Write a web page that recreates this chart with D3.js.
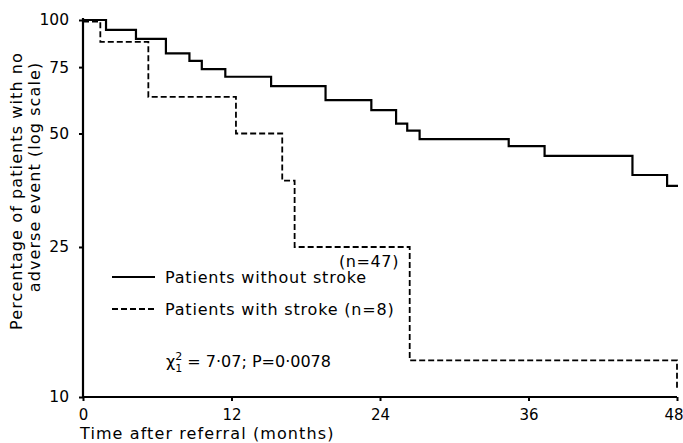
<!DOCTYPE html>
<html><head><meta charset="utf-8">
<script src="https://cdn.jsdelivr.net/npm/d3@7"></script>
<style>
html,body{margin:0;padding:0;background:#fff;}
svg text{font-family:"DejaVu Sans",sans-serif;fill:#000;}
</style></head>
<body><svg id="c" width="683" height="443"></svg>
<script>
// Data (months, % with no adverse event)
const noStrokeTimes  = [0, 1.86, 4.28, 6.7, 8.6, 9.6, 11.5, 15.2, 19.6, 23.3, 25.3, 26.2, 27.2, 34.4, 37.3, 44.4, 47.2, 48.08];
const noStrokeValues = [100, 94.1, 89.1, 81.6, 77.9, 74.1, 70.7, 66.8, 61.3, 57.7, 53.1, 50.9, 48.3, 46.3, 43.6, 38.8, 36.3, 36.3];
const strokeTimes    = [0, 1.4, 5.28, 12.36, 16.1, 17.1, 26.4, 48];
const strokeValues   = [99, 87.5, 62.5, 50, 37.5, 25, 12.5, 10.5];
const yTickValues = [10, 25, 50, 75, 100];
const xTickValues = [0, 12, 24, 36, 48];
const legendLabels = ["Patients without stroke", "Patients with stroke (n=8)"];
const nLabel = "(n=47)";

const svg = d3.select("#c");
const x = d3.scaleLinear().domain([0, 48]).range([83, 677]);
const y = d3.scaleLog().domain([10, 100]).range([397, 20]);

// axes
const yAxis = d3.axisLeft(y).tickValues(yTickValues).tickFormat(d3.format("d")).tickSize(4).tickPadding(10);
const gy = svg.append("g").attr("transform", "translate(83,0)").call(yAxis);
gy.select(".domain").attr("d", `M0,${y(100)-2}V${y(10)}`).attr("stroke-width", 2.2);
gy.selectAll(".tick line").attr("stroke-width", 2);
gy.selectAll(".tick text").style("font-size", "15.5px").style("font-family", "DejaVu Sans");

const xAxis = d3.axisBottom(x).tickValues(xTickValues).tickFormat(d3.format("d")).tickSize(4).tickPadding(8);
const gx = svg.append("g").attr("transform", "translate(0,397)").call(xAxis);
gx.select(".domain").attr("d", `M${x(0)},0H${x(48)}`).attr("stroke-width", 2.2);
gx.selectAll(".tick line").attr("stroke-width", 2);
gx.selectAll(".tick text").style("font-size", "15px").style("font-family", "DejaVu Sans");
// keep the last label inside the frame
gx.selectAll(".tick text").filter(d => d === 48).attr("text-anchor", "end").attr("x", 683 - x(48));

// curves
const line = d3.line().x(d => x(d[0])).y(d => y(d[1])).curve(d3.curveStepAfter);
svg.append("path").datum(noStrokeTimes.map((t, i) => [t, noStrokeValues[i]]))
  .attr("d", line).attr("fill", "none").attr("stroke", "#000").attr("stroke-width", 2.2);
svg.append("path").datum(strokeTimes.map((t, i) => [t, strokeValues[i]]))
  .attr("d", line).attr("fill", "none").attr("stroke", "#000").attr("stroke-width", 1.8)
  .attr("stroke-dasharray", "6,3");

// legend
const lg = svg.append("g");
[0, 1].forEach(i => {
  const ly = 277 + i * 32;
  lg.append("line").attr("x1", 112).attr("x2", 155).attr("y1", ly).attr("y2", ly)
    .attr("stroke", "#000").attr("stroke-width", i ? 1.8 : 2)
    .attr("stroke-dasharray", i ? "6,3" : null);
  lg.append("text").attr("x", 165).attr("y", ly + 6).style("font-size", "16px")
    .style("letter-spacing", "0.8px").text(legendLabels[i]);
});
lg.append("text").attr("x", 339).attr("y", 267).style("font-size", "16px")
  .style("letter-spacing", "0.6px").text(nLabel);

// statistic
const st = svg.append("text").attr("x", 166).attr("y", 367).style("font-size", "16px");
st.append("tspan").text("χ");
st.append("tspan").attr("dy", 5).style("font-size", "11px").text("1");
st.append("tspan").attr("dy", -12).attr("dx", -7).style("font-size", "11px").text("2");
st.append("tspan").attr("dy", 7).text(" = 7·07;  P=0·0078");

// axis titles
svg.append("text").attr("x", 80).attr("y", 439).style("font-size", "16px")
  .style("letter-spacing", "1.1px").text("Time after referral  (months)");
svg.append("text").attr("transform", "translate(22,191) rotate(-90)").attr("text-anchor", "middle")
  .style("font-size", "16px").style("letter-spacing", "1.1px").text("Percentage of patients with no");
svg.append("text").attr("transform", "translate(40,177) rotate(-90)").attr("text-anchor", "middle")
  .style("font-size", "16px").style("letter-spacing", "1.1px").text("adverse event (log scale)");
</script></body></html>
